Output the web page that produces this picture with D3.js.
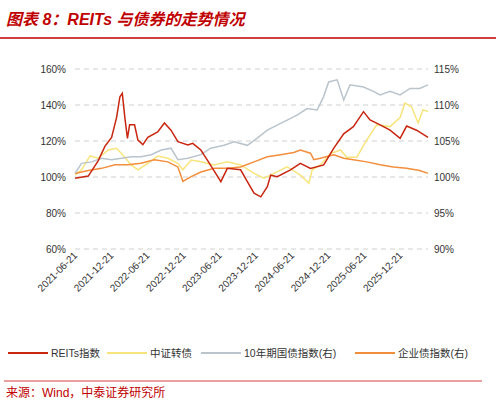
<!DOCTYPE html><html><head><meta charset="utf-8"><script src="https://cdn.jsdelivr.net/npm/d3@7"></script>
<style>body{margin:0;background:#fff}text{font-family:"Liberation Sans","Noto Sans CJK SC",sans-serif}</style></head><body><svg id="c" width="496" height="404"></svg><script>
const reitsDates=["2021-06-21","2021-08-27","2021-10-16","2021-11-19","2021-12-23","2022-01-17","2022-02-03","2022-02-15","2022-02-28","2022-03-13","2022-03-24","2022-04-18","2022-05-05","2022-05-30","2022-06-24","2022-08-13","2022-09-16","2022-10-19","2022-11-23","2023-01-12","2023-02-06","2023-03-19","2023-04-21","2023-06-02","2023-06-28","2023-07-31","2023-10-06","2023-11-09","2023-12-13","2024-01-16","2024-02-18","2024-03-06","2024-04-08","2024-06-14","2024-08-03","2024-09-23","2024-11-29","2025-01-19","2025-03-10","2025-04-28","2025-06-18","2025-07-21","2025-09-10","2025-10-30","2025-12-20","2026-01-22","2026-03-13","2026-05-10"];
const reitsVals=[99.3,100.5,109,117,122,133,144.6,146.5,133,121.5,129,129,120.5,118,122,125,130,126,119.6,117.8,118.7,115,109.4,102,97.4,104.8,104,97.4,91,89,94.6,101,100.2,104,107.6,104.8,106.7,116,124,128,136.3,131.7,129,126,121.5,128.3,126,122];
const cbDates=["2021-06-21","2021-07-24","2021-09-05","2021-10-16","2021-12-06","2022-01-17","2022-02-28","2022-04-01","2022-05-05","2022-06-24","2022-08-13","2022-10-03","2022-11-23","2022-12-18","2023-01-29","2023-03-19","2023-05-25","2023-07-31","2023-10-06","2023-12-13","2024-02-01","2024-03-22","2024-05-28","2024-08-03","2024-09-15","2024-10-02","2024-11-12","2025-01-02","2025-02-22","2025-03-25","2025-05-15","2025-07-04","2025-08-24","2025-10-30","2025-12-20","2026-01-13","2026-02-16","2026-03-21","2026-04-15","2026-05-10"];
const cbVals=[101,104,111.7,110.4,115,116,111,106.7,104,107.6,111.7,110.4,107.6,104,109.4,108.5,106.7,108.5,106.7,102,99.3,102,105.7,101,96.5,104,106.7,113,115,111,111,120.5,129,128,133,141,139,130,137.4,136.3];
const govDates=["2021-06-21","2021-07-24","2021-09-13","2021-11-02","2021-12-23","2022-02-11","2022-04-01","2022-05-21","2022-07-11","2022-08-31","2022-10-19","2022-11-23","2023-01-12","2023-03-19","2023-05-08","2023-07-14","2023-09-03","2023-11-09","2023-12-29","2024-02-18","2024-04-08","2024-05-28","2024-07-17","2024-09-06","2024-10-27","2024-11-29","2024-12-24","2025-02-05","2025-03-10","2025-04-11","2025-06-18","2025-08-07","2025-09-10","2025-10-30","2025-12-20","2026-02-08","2026-03-29","2026-05-10"];
const govVals=[100.5,101.9,102.1,102.6,102.4,102.6,102.8,102.8,103.1,103.75,104,102.4,102.6,103.1,104,104.4,104.9,104.4,105.4,106.5,107.2,107.9,108.6,109.5,109.3,111.2,113.2,113.5,110.7,112.8,112.5,111.9,111.4,111.9,111.4,112.3,112.3,112.8];
const corpDates=["2021-06-21","2021-08-27","2021-11-02","2022-01-09","2022-03-16","2022-05-21","2022-07-27","2022-10-03","2022-11-23","2022-12-18","2023-01-29","2023-03-19","2023-05-25","2023-07-31","2023-10-06","2023-12-13","2024-02-18","2024-04-25","2024-07-01","2024-08-03","2024-09-23","2024-10-10","2024-11-12","2025-01-19","2025-03-10","2025-04-28","2025-07-04","2025-09-10","2025-11-16","2026-01-22","2026-03-29","2026-05-10"];
const corpVals=[100.5,100.9,101.2,101.7,101.7,101.9,102.4,102.1,101.4,99.4,100.05,100.7,101.2,101.2,101.4,102.1,102.8,103.1,103.4,103.75,103.3,102.4,102.6,103.1,102.6,102.4,102.1,101.7,101.4,101.2,100.9,100.5];
const leftTicks=[60,80,100,120,140,160];
const rightTicks=[90,95,100,105,110,115];
const xTicks=["2021-06-21","2021-12-21","2022-06-21","2022-12-21","2023-06-21","2023-12-21","2024-06-21","2024-12-21","2025-06-21","2025-12-21"];
const legendNames=["REITs指数","中证转债","10年期国债指数(右)","企业债指数(右)"];
const colors=["#c8260f","#f7e57c","#b9c4cc","#f28e3c"];

const p=d3.timeParse("%Y-%m-%d");
const svg=d3.select("#c");
svg.append("text").attr("x",6).attr("y",25).attr("fill","#c00000").attr("font-size",16).attr("font-weight","bold").attr("font-style","italic").text("图表 8：REITs 与债券的走势情况");
svg.append("line").attr("x1",0).attr("x2",496).attr("y1",38).attr("y2",38).attr("stroke","#c00000").attr("stroke-width",1.5);
const x=d3.scaleTime().domain([p("2021-06-21"),p("2026-05-10")]).range([75,428]);
const yl=d3.scaleLinear().domain([60,160]).range([249,69]);
const yr=d3.scaleLinear().domain([90,115]).range([249,69]);
const g=svg.append("g");
leftTicks.forEach(t=>{g.append("line").attr("x1",75).attr("x2",428).attr("y1",yl(t)).attr("y2",yl(t)).attr("stroke","#d0d0d0").attr("stroke-dasharray","5,4");
g.append("text").attr("x",66).attr("y",yl(t)+3.5).attr("text-anchor","end").attr("font-size",10).attr("fill","#333").text(t+"%");});
rightTicks.forEach(t=>{g.append("text").attr("x",434).attr("y",yr(t)+3.5).attr("font-size",10).attr("fill","#333").text(t+"%");});
xTicks.forEach(d=>{const xx=x(p(d));g.append("text").attr("transform",`translate(${xx+3},${256}) rotate(-45)`).attr("text-anchor","end").attr("font-size",10).attr("fill","#333").text(d);});
const ser=[[reitsDates,reitsVals,yl],[cbDates,cbVals,yl],[govDates,govVals,yr],[corpDates,corpVals,yr]];
[1,3,2,0].forEach(i=>{const [ds,vs,ys]=ser[i];
g.append("path").datum(ds.map((d,j)=>[p(d),vs[j]])).attr("fill","none").attr("stroke",colors[i]).attr("stroke-width",1.5)
.attr("d",d3.line().x(d=>x(d[0])).y(d=>ys(d[1])));});
const lx=[8,107,201,355];
legendNames.forEach((n,i)=>{svg.append("line").attr("x1",lx[i]).attr("x2",lx[i]+40).attr("y1",353).attr("y2",353).attr("stroke",colors[i]).attr("stroke-width",2);
svg.append("text").attr("x",lx[i]+43).attr("y",357).attr("font-size",10.5).attr("fill","#333").text(n);});
svg.append("line").attr("x1",4).attr("x2",482).attr("y1",381).attr("y2",381).attr("stroke","#d04040").attr("stroke-width",1);
svg.append("text").attr("x",6).attr("y",397).attr("font-size",12).attr("fill","#c00000").text("来源：Wind，中泰证券研究所");
</script></body></html>
